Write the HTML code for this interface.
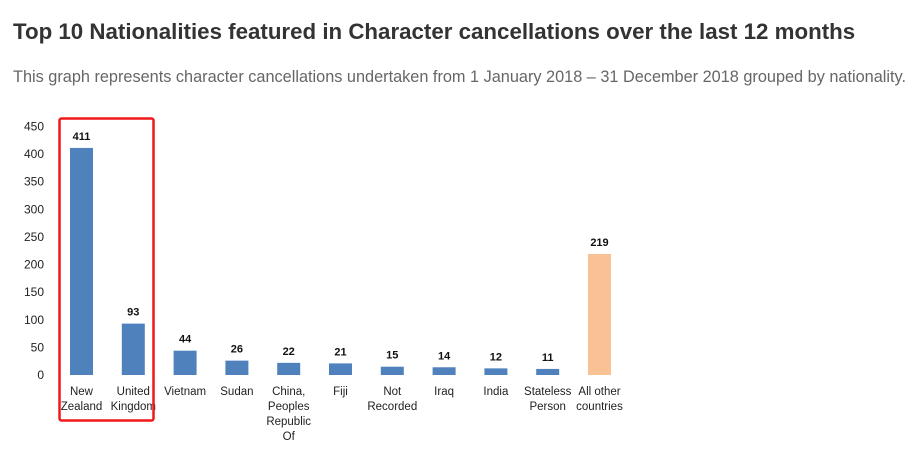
<!DOCTYPE html>
<html><head><meta charset="utf-8"><style>
body{margin:0;background:#fff;width:914px;height:451px;overflow:hidden;font-family:"Liberation Sans",sans-serif}
h1{position:absolute;left:13px;top:19px;margin:0;font-size:22.3px;font-weight:bold;color:#333}
p{position:absolute;left:13px;top:68px;margin:0;font-size:16.3px;color:#666}
</style></head><body>
<h1>Top 10 Nationalities featured in Character cancellations over the last 12 months</h1>
<p>This graph represents character cancellations undertaken from 1 January 2018 – 31 December 2018 grouped by nationality.</p>
<svg id="c" width="914" height="451" style="position:absolute;left:0;top:0"></svg>
<script>
const categories=[["New","Zealand"],["United","Kingdom"],["Vietnam"],["Sudan"],["China,","Peoples","Republic","Of"],["Fiji"],["Not","Recorded"],["Iraq"],["India"],["Stateless","Person"],["All other","countries"]];
const values=[411,93,44,26,22,21,15,14,12,11,219];
const ticks=[0,50,100,150,200,250,300,350,400,450];
const svg=document.getElementById('c');const NS='http://www.w3.org/2000/svg';
function y(v){return 375-v*0.5525;}
function x(i){return 81.5+i*51.8;}
function mk(t,a,txt){const e=document.createElementNS(NS,t);for(const k in a)e.setAttribute(k,a[k]);if(txt!=null)e.textContent=txt;svg.appendChild(e);return e;}
ticks.forEach(t=>{const e=mk('text',{x:44,y:y(t)+4,'text-anchor':'end','font-size':12,fill:'#222','font-family':'Liberation Sans, sans-serif'},t);

});
values.forEach((v,i)=>{const r=mk('rect',{x:x(i)-11.5,y:y(v),width:23,height:375-y(v),fill:i==10?'#f9c294':'#4f81bd'});


const l=mk('text',{x:x(i),y:y(v)-8,'text-anchor':'middle','font-size':11,'font-weight':'bold',fill:'#111','font-family':'Liberation Sans, sans-serif'},v);


categories[i].forEach((s,j)=>{const c=mk('text',{x:x(i),y:395+j*15,'text-anchor':'middle','font-size':11.5,fill:'#222','font-family':'Liberation Sans, sans-serif'},s);

});});
const b=mk('rect',{x:59.5,y:118.5,width:94,height:302,rx:2,fill:'none',stroke:'#f01818','stroke-width':2.5});


</script>
</body></html>
